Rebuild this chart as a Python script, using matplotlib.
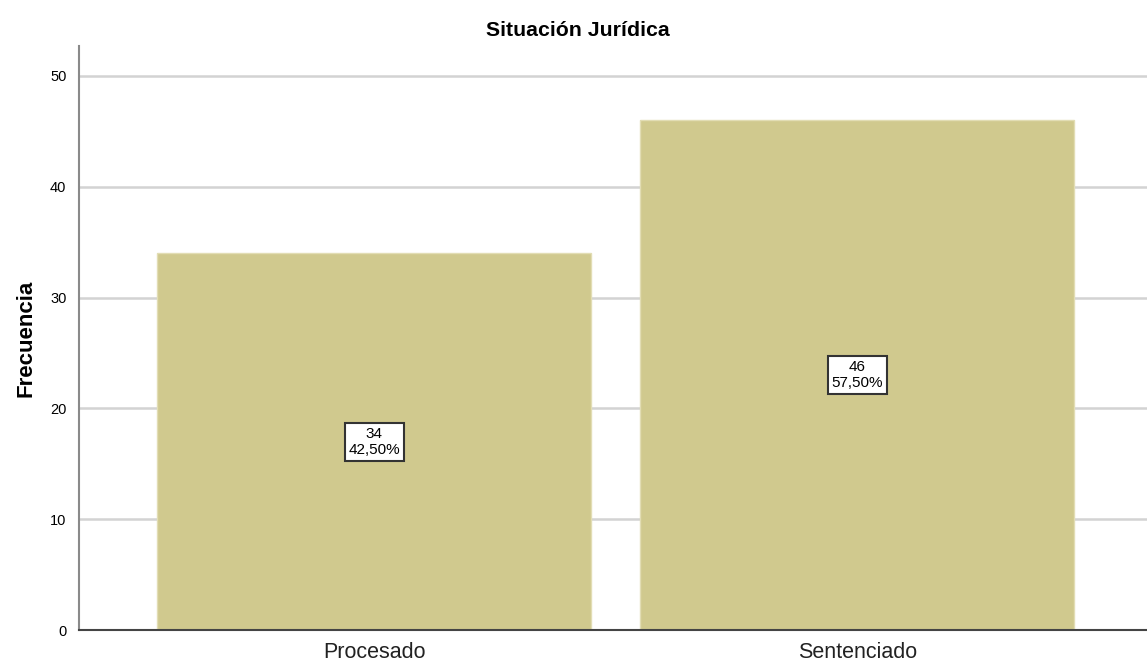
import matplotlib
matplotlib.use("Agg")
import matplotlib.pyplot as plt

categories = ["Procesado", "Sentenciado"]
counts = [34, 46]
percents = ["42,50%", "57,50%"]
yticks = [0, 10, 20, 30, 40, 50]

plt.rcParams['font.family'] = ['Liberation Sans', 'DejaVu Sans']

fig = plt.figure(figsize=(11.47, 6.66), dpi=100)
ax = fig.add_axes([79/1147, 36/666, 1 - 79/1147, (630-46)/666])

x = list(range(len(categories)))
bars = ax.bar(x, counts, width=0.898, color='#d0c98e', edgecolor='#e2ddb4', linewidth=1, zorder=2)

for xi, c, p in zip(x, counts, percents):
    ax.text(xi, c / 2, f"{c}\n{p}", ha='center', va='center', fontsize=11,
            linespacing=1.2, color='black', zorder=4,
            bbox=dict(boxstyle='square,pad=0.25', facecolor='white', edgecolor='#333333', linewidth=1.5))

ax.set_xlim(-0.611, 1.600)
ax.set_ylim(0, 52.7)
ax.set_yticks(yticks)
ax.set_xticks(x)
ax.set_xticklabels(categories, fontsize=15.5, color='#222222')
ax.tick_params(axis='y', length=0, pad=9, labelsize=10.5)
ax.tick_params(axis='x', length=0, pad=9)
ax.yaxis.grid(True, color='#d3d3d3', linewidth=1.8, zorder=0)
ax.set_axisbelow(True)

for s in ['top', 'right']:
    ax.spines[s].set_visible(False)
ax.spines['left'].set_color('#8a8a8a')
ax.spines['left'].set_linewidth(1.5)
ax.spines['bottom'].set_color('#444444')
ax.spines['bottom'].set_linewidth(1.5)

ax.set_ylabel("Frecuencia", fontsize=16, fontweight='bold', labelpad=10)
fig.text(578/1147, 1 - 30/666, "Situación Jurídica", ha='center', va='center',
         fontsize=15.3, fontweight='bold')

fig.savefig("out.png", dpi=100)
